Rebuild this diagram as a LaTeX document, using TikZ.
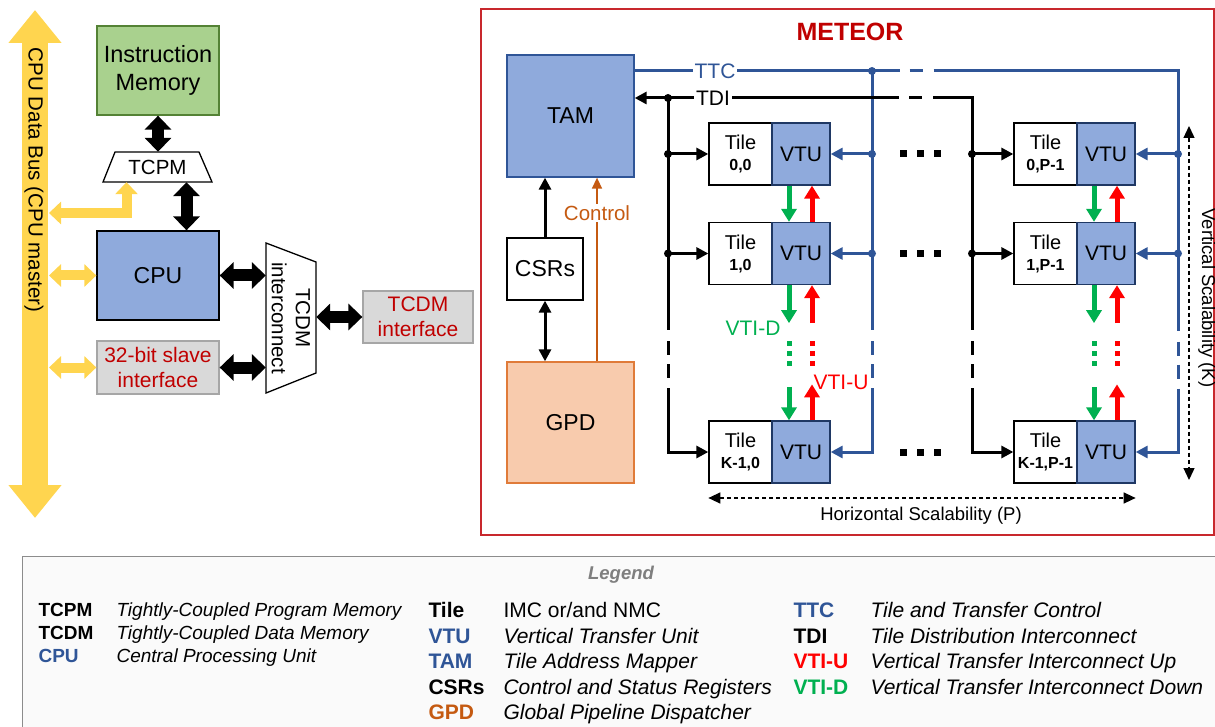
\documentclass[tikz,border=0pt]{standalone}
\usepackage{fontspec}
\setmainfont{Liberation Sans}
\usetikzlibrary{arrows.meta}
\definecolor{bblue}{HTML}{8FAADC}
\definecolor{bline}{HTML}{2F5597}
\definecolor{vtuline}{HTML}{1F3864}
\definecolor{imfill}{HTML}{A9D18E}
\definecolor{imline}{HTML}{548235}
\definecolor{gpdfill}{HTML}{F8CBAD}
\definecolor{gpdline}{HTML}{E07B39}
\definecolor{ctrl}{HTML}{C55A11}
\definecolor{gfill}{HTML}{D9D9D9}
\definecolor{gline}{HTML}{A6A6A6}
\definecolor{ybus}{HTML}{FFD54F}
\definecolor{dred}{HTML}{C00000}
\definecolor{vred}{HTML}{FF0000}
\definecolor{vgreen}{HTML}{00B050}
\definecolor{mred}{HTML}{C8282D}
\definecolor{legline}{HTML}{8C8C8C}
\definecolor{legfill}{HTML}{FAFAFA}
\definecolor{legtitle}{HTML}{7F7F7F}
\newcommand\fsz[2]{\fontsize{#1}{#2}\selectfont}
\begin{document}
\begin{tikzpicture}[x=1pt,y=-1pt, font=\fsz{21}{25},
  bx/.style={draw, line width=1.3pt, inner sep=0pt, align=center},
  shp/.style={draw, line width=1.3pt, fill=white, line join=miter},
  blk/.style={line width=12pt, {Triangle[width=26pt,length=14pt]}-{Triangle[width=26pt,length=14pt]}},
  ylw/.style={draw=ybus, line width=10pt, {Triangle[width=22pt,length=12pt]}-{Triangle[width=22pt,length=12pt]}},
  conn/.style={line width=3pt},
  bconn/.style={conn, draw=bline},
  tipa/.style={-{Triangle[width=12pt,length=12pt]}},
  tipb/.style={{Triangle[width=12pt,length=12pt]}-{Triangle[width=12pt,length=12pt]}},
  jdot/.style={circle, fill, inner sep=0pt, minimum size=8pt},
  tilebox/.style={bx, fill=white, minimum width=63pt, minimum height=62pt, font=\fsz{20}{22}},
  vtubox/.style={bx, fill=bblue, draw=vtuline, minimum width=58pt, minimum height=62pt},
  vtd/.style={line width=5pt, draw=vgreen, -{Triangle[width=15pt,length=13pt]}},
  vtup/.style={line width=5pt, draw=vred, -{Triangle[width=15pt,length=13pt]}},
  vdots/.style={line width=5pt, dash pattern=on 5pt off 5pt},
  brk/.style={dash pattern=on #1 off 11pt on 14pt off 9pt on 14pt off 10pt on 2000pt},
  scal/.style={line width=1.3pt, dash pattern=on 4pt off 3pt, {Triangle[width=11pt,length=12pt]}-{Triangle[width=11pt,length=12pt]}},
  labA/.style={anchor=base west, font=\fsz{19}{23}\bfseries},
  desA/.style={anchor=base west, font=\fsz{19}{23}\itshape},
  labB/.style={anchor=base west, font=\fsz{21}{25}\bfseries},
  desB/.style={anchor=base west, font=\fsz{21}{25}\itshape}
]
\useasboundingbox (0,0) rectangle (1215,727);
\clip (0,0) rectangle (1215,727);

% ---------------- CPU side ----------------
\coordinate (bust) at (35,10);
\coordinate (busb) at (35,518);
\draw[draw=ybus, line width=26pt, {Triangle[width=51pt,length=33pt]}-{Triangle[width=51pt,length=33pt]}] (bust) -- (busb);
\node[rotate=-90, font=\fsz{20.5}{24}] (bustext) at (34,180) {CPU Data Bus (CPU master)};
\coordinate (busR) at (49,0);
\coordinate (yelb) at (0,213);

\node[bx, fill=imfill, draw=imline, minimum width=122pt, minimum height=89pt, font=\fsz{23.5}{28}] (im) at (158,70.5) {Instruction\\Memory};
\node[bx, fill=bblue, draw=black, minimum width=122pt, minimum height=89pt, font=\fsz{23}{27}] (cpu) at (158,275.5) {CPU};
\node[bx, fill=gfill, draw=gline, minimum width=122pt, minimum height=53pt, text=dred] (slave) at (158,367.5) {32-bit slave\\interface};
\node[bx, fill=gfill, draw=gline, minimum width=110pt, minimum height=52pt, text=dred] (tcdm) at (418,317) {TCDM\\interface};

\draw[shp] (115,152) -- (199,152) -- (212,182) -- (103,182) -- cycle;
\node[minimum width=84pt, minimum height=30pt, inner sep=0pt, font=\fsz{20.5}{24}] (tcpm) at (157.5,167) {TCPM};

\draw[shp] (266,243) -- (316,262) -- (316,373) -- (266,393) -- cycle;
\node[minimum width=50pt, minimum height=150pt, inner sep=0pt] (ic) at (291,318) {};
\node[rotate=-90, align=center, font=\fsz{20.5}{24}] (ictext) at (ic.center) {TCDM\\interconnect};

\draw[blk] (im.south) -- (im.south |- tcpm.north);
\draw[blk] ([xshift=29pt]tcpm.south) -- ([xshift=29pt]tcpm.south |- cpu.north);
\draw[blk] (cpu.east) -- (cpu.east -| ic.west);
\draw[blk] (slave.east) -- (slave.east -| ic.west);
\draw[blk] (ic.east |- tcdm.west) -- (tcdm.west);

\draw[ylw] (busR |- cpu.west) -- (cpu.west);
\draw[ylw] (busR |- slave.west) -- (slave.west);
\draw[ylw, line join=miter] (busR |- yelb) -| ([xshift=-31pt]tcpm.south);

% ---------------- METEOR ----------------
\node[draw=mred, line width=1.5pt, minimum width=733pt, minimum height=526pt, inner sep=0pt] (meteor) at (847.5,272) {};
\node[font=\fsz{25}{30}\bfseries, text=dred] (mtitle) at (850,32) {METEOR};

\node[bx, fill=bblue, draw=bline, minimum width=127pt, minimum height=122pt, font=\fsz{23}{27}] (tam) at (570.5,116) {TAM};
\node[bx, fill=white, draw=black, minimum width=76pt, minimum height=62pt, font=\fsz{23}{27}] (csrs) at (545,269) {CSRs};
\node[bx, fill=gpdfill, draw=gpdline, minimum width=127pt, minimum height=121pt, font=\fsz{23}{27}] (gpd) at (570.5,422.5) {GPD};

\draw[conn, tipa] (csrs.north) -- (csrs.north |- tam.south);
\draw[conn, tipb] (csrs.south) -- (csrs.south |- gpd.north);
\coordinate (ctrlx) at (597,0);
\draw[draw=ctrl, line width=1.5pt, -{Triangle[width=10pt,length=11pt]}] (gpd.north -| ctrlx) -- node[pos=0.805, fill=white, inner sep=1.5pt, text=ctrl, font=\fsz{20.5}{24}] (ctrltext) {Control} (tam.south -| ctrlx);

% tiles
\node[tilebox] (t00) at (740.5,154) {Tile\\[-1pt]{\fsz{16}{18}\bfseries 0,0}};
\node[vtubox] (v00) at (801,154) {VTU};
\node[tilebox] (t10) at (740.5,253.5) {Tile\\[-1pt]{\fsz{16}{18}\bfseries 1,0}};
\node[vtubox] (v10) at (801,253.5) {VTU};
\node[tilebox] (tK0) at (740.5,452) {Tile\\[-1pt]{\fsz{16}{18}\bfseries K-1,0}};
\node[vtubox] (vK0) at (801,452) {VTU};
\node[tilebox] (t0P) at (1045.5,154) {Tile\\[-1pt]{\fsz{16}{18}\bfseries 0,P-1}};
\node[vtubox] (v0P) at (1106,154) {VTU};
\node[tilebox] (t1P) at (1045.5,253.5) {Tile\\[-1pt]{\fsz{16}{18}\bfseries 1,P-1}};
\node[vtubox] (v1P) at (1106,253.5) {VTU};
\node[tilebox] (tKP) at (1045.5,452) {Tile\\[-1pt]{\fsz{16}{18}\bfseries K-1,P-1}};
\node[vtubox] (vKP) at (1106,452) {VTU};

% bus coordinates
\coordinate (ttcy) at (0,71);
\coordinate (jB) at (668,98);
\coordinate (jT) at (872,71);
\coordinate (cTTC) at (1178,71);
\coordinate (cTDI) at (972,98);

% TTC (blue)
\draw[bconn, line join=miter, dash pattern=on 265pt off 10pt on 13pt off 11pt on 504pt off 11pt on 14pt off 9pt on 14pt off 10pt on 2000pt, tipa]
  (tam.east |- ttcy) -- (cTTC) -- (cTTC |- vKP.east) -- (vKP.east);
\draw[bconn, line join=miter, brk=259pt, tipa] (jT) -- (jT |- vK0.east) -- (vK0.east);
\node[text=bline, fill=white, inner sep=2pt] (ttc) at (715,71) {TTC};

% TDI (black)
\draw[conn, line join=miter, dash pattern=on 231pt off 10pt on 13pt off 11pt on 271pt off 11pt on 14pt off 9pt on 14pt off 10pt on 2000pt, tipa]
  (jB) -- (cTDI) -- (cTDI |- tKP.west) -- (tKP.west);
\draw[conn, line join=miter, brk=232pt, tipa] (jB) -- (jB |- tK0.west) -- (tK0.west);
\draw[conn, tipa] (jB) -- (tam.east |- jB);
\node[fill=white, inner sep=2pt] (tdi) at (713,98) {TDI};

% row connections
\draw[conn, tipa] (t00.west -| jB) -- (t00.west);
\draw[conn, tipa] (t10.west -| jB) -- (t10.west);
\draw[conn, tipa] (t0P.west -| cTDI) -- (t0P.west);
\draw[conn, tipa] (t1P.west -| cTDI) -- (t1P.west);
\draw[bconn, tipa] (v00.east -| jT) -- (v00.east);
\draw[bconn, tipa] (v10.east -| jT) -- (v10.east);
\draw[bconn, tipa] (v0P.east -| cTTC) -- (v0P.east);
\draw[bconn, tipa] (v1P.east -| cTTC) -- (v1P.east);

% junction dots
\node[jdot] (d1) at (jB) {};
\node[jdot] (d2) at (t00.west -| jB) {};
\node[jdot] (d3) at (t10.west -| jB) {};
\node[jdot] (d4) at (t0P.west -| cTDI) {};
\node[jdot] (d5) at (t1P.west -| cTDI) {};
\node[jdot, fill=bline] (d6) at (jT) {};
\node[jdot, fill=bline] (d7) at (v00.east -| jT) {};
\node[jdot, fill=bline] (d8) at (v10.east -| jT) {};
\node[jdot, fill=bline] (d9) at (v0P.east -| cTTC) {};
\node[jdot, fill=bline] (d10) at (v1P.east -| cTTC) {};

% ellipses
\foreach \yy in {154,253.5,452}
  \foreach \xx in {903.5,920,937.5}
    \fill (\xx-3.5,\yy-3.5) rectangle (\xx+3.5,\yy+3.5);

% vertical transfer arrows
\foreach \v/\w/\k in {v00/v10/vK0, v0P/v1P/vKP}{
  \draw[vtd] ([xshift=-12pt]\v.south) -- ([xshift=-12pt]\w.north);
  \draw[vtup] ([xshift=11pt]\w.north) -- ([xshift=11pt]\v.south);
  \draw[vtd] ([xshift=-12pt]\w.south) -- ++(0,38);
  \draw[vtup] ([xshift=11pt]\w.south) ++(0,38) -- ([xshift=11pt]\w.south);
  \draw[vdots, draw=vgreen] ([xshift=-12pt]\w.south) ++(0,56) -- ++(0,25);
  \draw[vdots, draw=vred] ([xshift=11pt]\w.south) ++(0,56) -- ++(0,25);
  \draw[vtd] ([xshift=-12pt]\k.north) ++(0,-33) -- ([xshift=-12pt]\k.north);
  \draw[vtup] ([xshift=11pt]\k.north) -- ++(0,-36);
}
\node[text=vgreen] (vtid) at (753,328) {VTI-D};
\node[text=vred] (vtiu) at (841,382) {VTI-U};

% scalability
\coordinate (hsy) at (0,498);
\draw[scal] (tK0.west |- hsy) -- (vKP.east |- hsy);
\node[font=\fsz{18.5}{22}] (hsl) at (921,516) {Horizontal Scalability (P)};
\coordinate (vsx) at (1189,0);
\draw[scal] (vsx |- 0,126) -- (vsx |- 0,480);
\node[rotate=-90, font=\fsz{18.5}{22}] (vsl) at (1207,298) {Vertical Scalability (K)};

% ---------------- Legend ----------------
\node[draw=legline, fill=legfill, line width=1.3pt, minimum width=1205pt, minimum height=220pt, inner sep=0pt, anchor=north west] (legbox) at (22,556) {};
\node[font=\fsz{18.5}{22}\bfseries\itshape, text=legtitle] (legt) at (621,575) {Legend};

\node[labA] (a1) at (35,616) {TCPM};
\node[desA] (b1) at (113,616) {Tightly-Coupled Program Memory};
\node[labA] (a2) at (35,639) {TCDM};
\node[desA] (b2) at (113,639) {Tightly-Coupled Data Memory};
\node[labA, text=bline] (a3) at (35,662) {CPU};
\node[desA] (b3) at (113,662) {Central Processing Unit};

\node[labB] (c1) at (425,617.5) {Tile};
\node[anchor=base west, font=\fsz{21}{25}] (e1) at (500,617.5) {IMC or/and NMC};
\node[labB, text=bline] (c2) at (425,643) {VTU};
\node[desB] (e2) at (500,643) {Vertical Transfer Unit};
\node[labB, text=bline] (c3) at (425,668.5) {TAM};
\node[desB] (e3) at (500,668.5) {Tile Address Mapper};
\node[labB] (c4) at (425,694) {CSRs};
\node[desB] (e4) at (500,694) {Control and Status Registers};
\node[labB, text=ctrl] (c5) at (425,719.5) {GPD};
\node[desB] (e5) at (500,719.5) {Global Pipeline Dispatcher};

\node[labB, text=bline] (f1) at (790,617.5) {TTC};
\node[desB] (g1) at (867,617.5) {Tile and Transfer Control};
\node[labB] (f2) at (790,643) {TDI};
\node[desB] (g2) at (867,643) {Tile Distribution Interconnect};
\node[labB, text=vred] (f3) at (790,668.5) {VTI-U};
\node[desB] (g3) at (867,668.5) {Vertical Transfer Interconnect Up};
\node[labB, text=vgreen] (f4) at (790,694) {VTI-D};
\node[desB] (g4) at (867,694) {Vertical Transfer Interconnect Down};
\end{tikzpicture}
\end{document}
